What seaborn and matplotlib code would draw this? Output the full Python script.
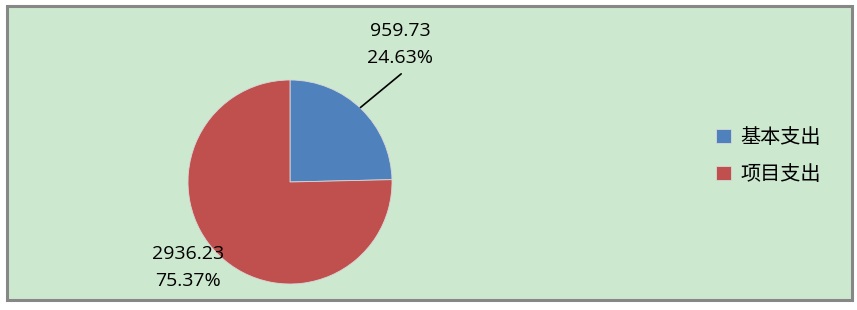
import matplotlib
matplotlib.use("Agg")
import matplotlib.pyplot as plt
import seaborn as sns
from matplotlib.patches import Rectangle

categories = ["基本支出", "项目支出"]
values = [959.73, 2936.23]
percents = ["24.63%", "75.37%"]
colors = ["#4F81BD", "#C0504D"]

sns.set_theme(style="white")
plt.rcParams['font.family'] = ['Noto Sans CJK SC', 'DejaVu Sans']
plt.rcParams['text.color'] = 'black'

W, H = 857, 310
fig = plt.figure(figsize=(W / 100, H / 100), dpi=100)
fig.patch.set_facecolor("white")

# background panel with border (pixel coords, top origin)
x0, y0, x1, y1 = 7, 6, 852, 300
fig.patches.append(Rectangle((x0 / W, 1 - y1 / H), (x1 - x0) / W, (y1 - y0) / H,
                             transform=fig.transFigure, facecolor="#CCE8CF",
                             edgecolor="#878787", linewidth=2.2, zorder=-10))

cx, cy, r = 290, 182, 102
ax = fig.add_axes([(cx - r) / W, 1 - (cy + r) / H, 2 * r / W, 2 * r / H])
ax.set_zorder(1)
ax.set_facecolor("none")
wedges, _ = ax.pie(values, colors=colors, startangle=90, counterclock=False,
                   radius=1.0, wedgeprops=dict(linewidth=0.6, edgecolor="#d8d8d8"))
ax.set_xlim(-1, 1)
ax.set_ylim(-1, 1)
ax.set_aspect("equal")
ax.axis("off")

lab_font = ['Open Sans', 'DejaVu Sans']
ax.text(1.08, 1.35, f"{values[0]:.2f}\n{percents[0]}", ha="center", va="center",
        fontsize=14, family=lab_font, linespacing=1.68, clip_on=False, color="black")
ax.text(-1.0, -0.84, f"{values[1]:.2f}\n{percents[1]}", ha="center", va="center",
        fontsize=14, family=lab_font, linespacing=1.68, clip_on=False, color="black")
ax.plot([0.69, 1.09], [0.73, 1.06], color="black", linewidth=1.2, clip_on=False)

fig.legend(wedges, categories, loc="center left",
           bbox_to_anchor=(698 / W, 1 - 156 / H), frameon=False,
           fontsize=14.5, handlelength=0.72, handleheight=0.72,
           handletextpad=0.5, labelspacing=0.8, labelcolor="black")

fig.savefig("out.png", dpi=100, facecolor="white")
